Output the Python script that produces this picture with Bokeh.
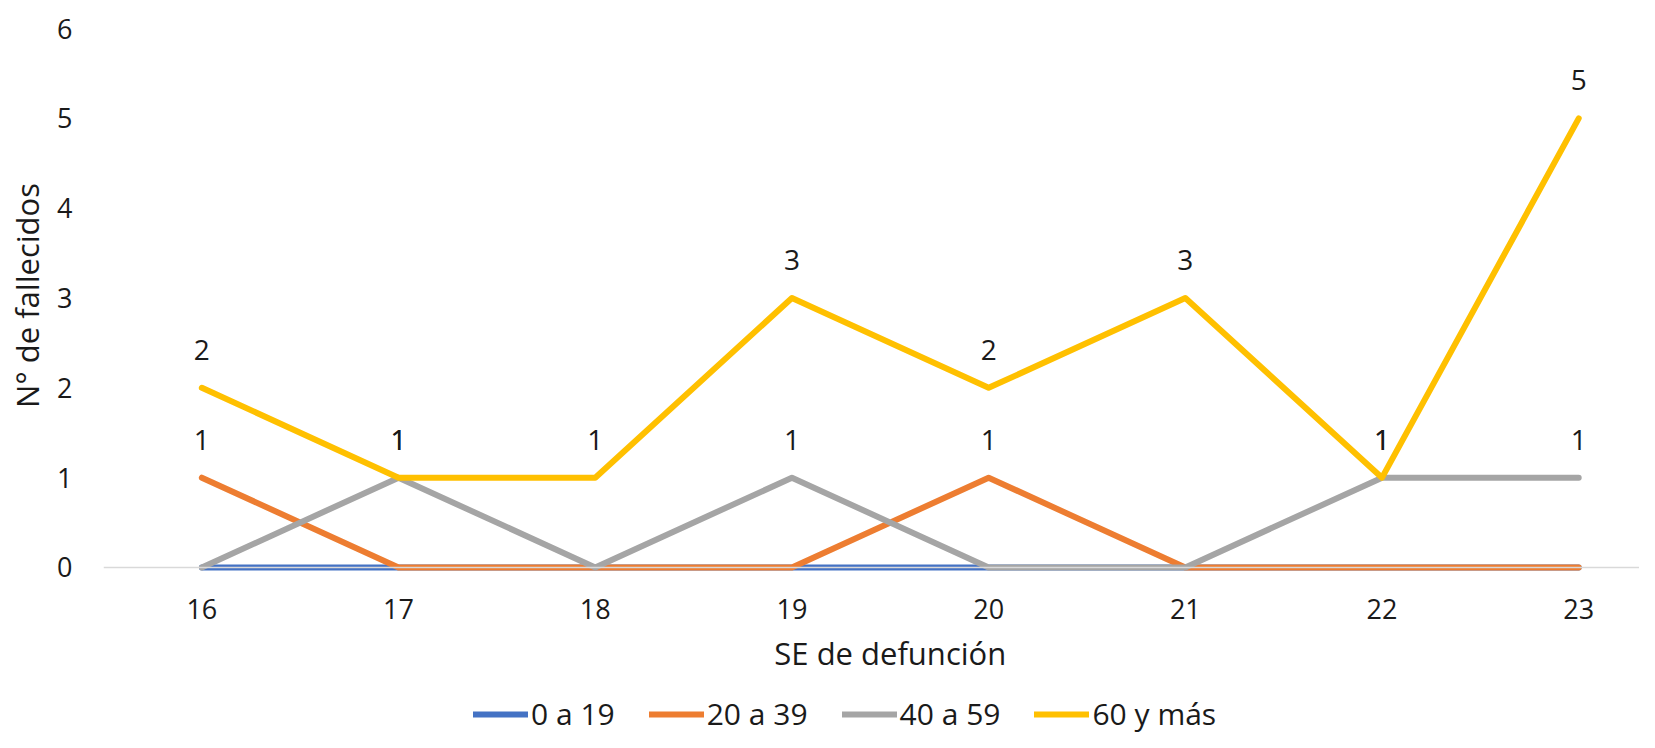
from bokeh.plotting import figure
from bokeh.layouts import column
from bokeh.models import Range1d, FixedTicker, Span, Legend, LegendItem, ColumnDataSource, Label
from bokeh.embed import file_html
from bokeh.resources import INLINE
from bokeh.core.properties import value

weeks = [16, 17, 18, 19, 20, 21, 22, 23]
s_0_19 = [0, 0, 0, 0, 0, 0, 0, 0]
s_20_39 = [1, 0, 0, 0, 1, 0, 0, 0]
s_40_59 = [0, 1, 0, 1, 0, 0, 1, 1]
s_60 = [2, 1, 1, 3, 2, 3, 1, 5]
series_names = ["0 a 19", "20 a 39", "40 a 59", "60 y más"]
series_colors = ["#4472C4", "#ED7D31", "#A5A5A5", "#FFC000"]
y_ticks = [0, 1, 2, 3, 4, 5, 6]
x_title = "SE de defunción"
y_title = "N° de fallecidos"
all_series = [s_0_19, s_20_39, s_40_59, s_60]

FONT = "Open Sans"
TXT = "#1a1a1a"
X0, X1 = 15.5, 23.309

p = figure(frame_width=1536, frame_height=558, output_backend="svg", toolbar_location=None,
           x_range=Range1d(X0, X1), y_range=Range1d(-0.078, 6.134),
           min_border_left=103, min_border_right=0, min_border_top=16, min_border_bottom=56)
p.outline_line_color = None
p.grid.grid_line_color = None
p.background_fill_color = "white"
p.border_fill_color = "white"

p.add_layout(Span(location=0, dimension="width", line_color="#d9d9d9", line_width=1.5))

for vals, col in zip(all_series, series_colors):
    p.line(weeks, vals, line_color=col, line_width=6, line_cap="round", line_join="round")

# data labels (non-zero values)
for vals in [s_20_39, s_40_59, s_60]:
    xs = [w for w, v in zip(weeks, vals) if v != 0]
    ys = [v for v in vals if v != 0]
    src = ColumnDataSource(dict(x=xs, y=ys, t=[str(v) for v in ys]))
    p.text(x="x", y="y", text="t", source=src, y_offset=-38, text_align="center",
           text_baseline="middle", text_font=value(FONT), text_font_size="28px", text_color=TXT)

xa = p.xaxis[0]
xa.ticker = FixedTicker(ticks=weeks)
xa.axis_line_color = None
xa.major_tick_line_color = None
xa.minor_tick_line_color = None
xa.major_label_text_font = FONT
xa.major_label_text_font_size = "27px"
xa.major_label_text_color = TXT
xa.major_label_standoff = 18

ya = p.yaxis[0]
ya.ticker = FixedTicker(ticks=y_ticks)
ya.axis_line_color = None
ya.major_tick_line_color = None
ya.minor_tick_line_color = None
ya.major_label_text_font = FONT
ya.major_label_text_font_size = "27px"
ya.major_label_text_color = TXT
ya.major_label_standoff = 25
ya.axis_label = y_title
ya.axis_label_text_font = FONT
ya.axis_label_text_font_size = "31px"
ya.axis_label_text_font_style = "normal"
ya.axis_label_text_color = TXT
ya.axis_label_standoff = 6

# bottom strip: x-axis title + legend (series lines lie outside its y range)
pl = figure(width=1639, height=106, output_backend="svg", toolbar_location=None,
            x_range=Range1d(X0, X1), y_range=Range1d(1000, 1106),
            x_axis_location=None, y_axis_location=None,
            min_border=0, min_border_left=0, min_border_right=0, min_border_top=0, min_border_bottom=0)
pl.outline_line_color = None
pl.grid.grid_line_color = None
pl.border_fill_color = "white"
pl.background_fill_color = "white"
pl.add_layout(Label(x=(X0 + 23.5) / 2, y=1084, text=x_title, text_align="center",
                    text_baseline="middle", text_font=FONT, text_font_size="31px",
                    text_color=TXT))
items = []
for vals, name, col in zip(all_series, series_names, series_colors):
    r = pl.line(weeks, vals, line_color=col, line_width=6, line_cap="round")
    items.append(LegendItem(label=name, renderers=[r]))
legend = Legend(items=items, orientation="horizontal", location=(370, 2),
                glyph_width=55, glyph_height=20, label_standoff=3, spacing=34,
                padding=0, margin=0, border_line_color=None,
                label_text_font=FONT, label_text_font_size="30px", label_text_color=TXT,
                background_fill_alpha=0)
pl.add_layout(legend, "center")

layout = column(p, pl, spacing=0)
open("out.html", "w").write(file_html(layout, INLINE))
